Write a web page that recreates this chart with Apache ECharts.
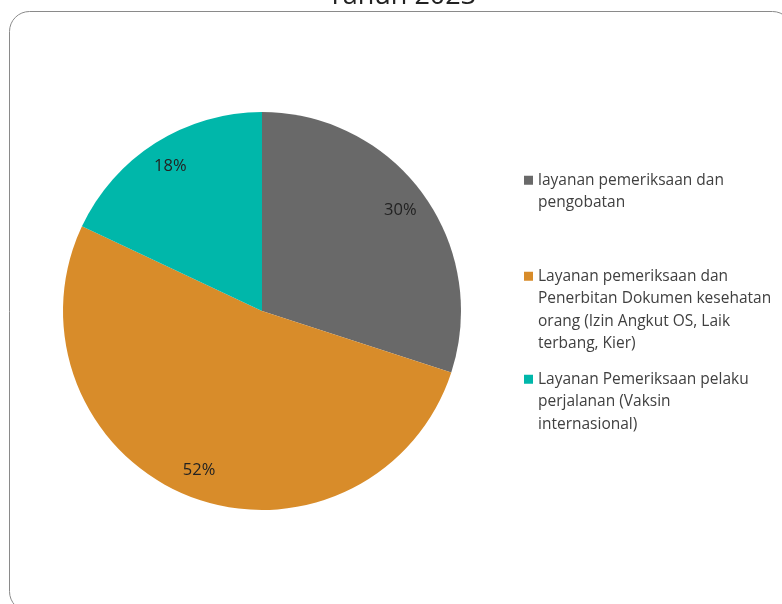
<!DOCTYPE html>
<html>
<head>
<meta charset="utf-8">
<script src="https://cdn.jsdelivr.net/npm/echarts@6/dist/echarts.min.js"></script>
<style>html,body{margin:0;padding:0;background:#fff}#c{width:782px;height:604px}</style>
</head>
<body>
<div id="c"></div>
<script>
var titleText = 'Tahun 2023';
var categories = [
  'layanan pemeriksaan dan pengobatan',
  'Layanan pemeriksaan dan Penerbitan Dokumen kesehatan orang (Izin Angkut OS, Laik terbang, Kier)',
  'Layanan Pemeriksaan pelaku perjalanan (Vaksin internasional)'
];
var legendLines = [
  'layanan pemeriksaan dan\npengobatan',
  'Layanan pemeriksaan dan\nPenerbitan Dokumen kesehatan\norang (Izin Angkut OS, Laik\nterbang, Kier)',
  'Layanan Pemeriksaan pelaku\nperjalanan (Vaksin\ninternasional)'
];
var values = [30, 52, 18];
var colors = ['#696969', '#D88C2A', '#00B7AA'];

var FONT = 'Open Sans';
var LH = 22.5;
var data = categories.map(function (c, i) { return { name: c, value: values[i], itemStyle: { color: colors[i] } }; });
var labelMap = {};
categories.forEach(function (c, i) { labelMap[c] = legendLines[i]; });

var legendTops = [169, 265, 368];
var legends = categories.map(function (c, i) {
  var n = legendLines[i].split('\n').length;
  var h = LH * (n - 1) + 9;
  return {
    data: [c], left: 524, top: legendTops[i], orient: 'vertical', padding: 0,
    icon: 'path://M0,0h9v9h-9z M0,' + h + 'h0.01v0.01h-0.01z',
    symbolKeepAspect: false,
    itemWidth: 9, itemHeight: h, itemGap: 0,
    selectedMode: false,
    formatter: function (nm) { return labelMap[nm]; },
    textStyle: { fontFamily: FONT, fontSize: 15.5, color: '#404040', lineHeight: LH }
  };
});

var chart = echarts.init(document.getElementById('c'));
chart.setOption({
  animation: false,
  legend: legends,
  graphic: [
    { type: 'rect', shape: { x: 9.5, y: 11.5, width: 783, height: 600, r: 20 }, style: { fill: 'none', stroke: '#8a8a8a', lineWidth: 1 }, z: 0 },
    { type: 'text', x: 402, y: 10, style: { text: titleText, font: '27px "Open Sans"', fill: '#222', align: 'center', verticalAlign: 'bottom' }, z: 10 }
  ],
  series: [
    {
      type: 'pie', center: [262, 311], radius: 199, startAngle: 90, clockwise: true,
      data: data, label: { show: false }, labelLine: { show: false }, silent: true,
      itemStyle: { borderWidth: 0 }
    },
    {
      type: 'pie', center: [262, 311], radius: [137, 199], startAngle: 90, clockwise: true,
      data: data.map(function (d) { return { name: d.name, value: d.value, itemStyle: { color: 'rgba(0,0,0,0)' } }; }),
      silent: true, legendHoverLink: false,
      label: { show: true, position: 'inside', formatter: '{d}%', fontFamily: FONT, fontSize: 16.5, color: '#222' },
      labelLine: { show: false }
    }
  ]
});
</script>
</body>
</html>
